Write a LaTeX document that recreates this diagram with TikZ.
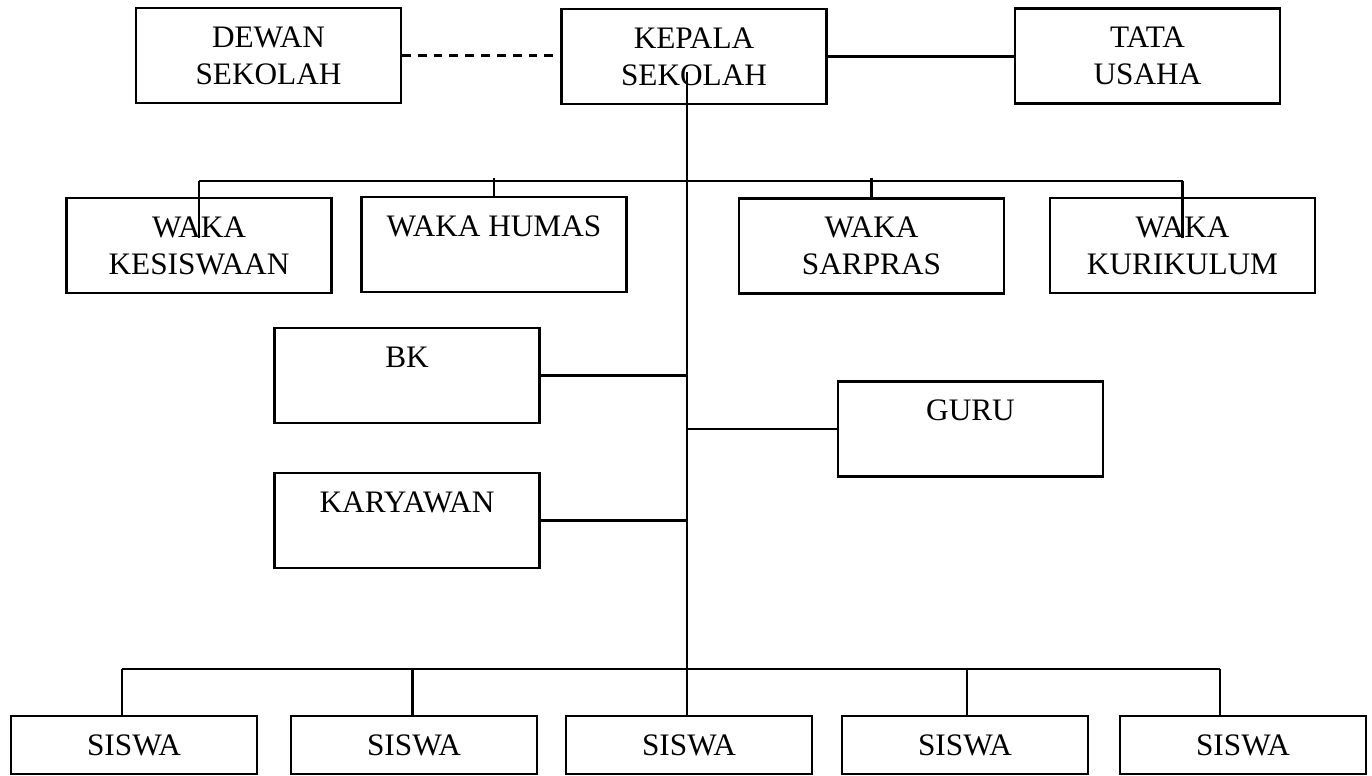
\documentclass[tikz,border=0pt]{standalone}
\usepackage{fontspec}
\setmainfont{Liberation Serif}
\usetikzlibrary{calc}

\tikzset{
	kotak/.style={draw, line width=1.2pt, minimum width=5.3cm, minimum height=1.9cm, inner sep=0pt, align=center, font=\fontsize{17.8}{21}\selectfont},
	kotaksiswa/.style={kotak, minimum width=4.92cm, minimum height=1.16cm},
	garis/.style={line width=1.2pt},
}

\begin{document}
\begin{tikzpicture}[x=0.02cm, y=-0.02cm]
			%%%%% START %%%%%
			\useasboundingbox (0,0) rectangle (1372,775);
			
			\node[kotak] (dewan) at (268.5, 55.5) {DEWAN\\SEKOLAH};
			\node[kotak] (kepala) at (694, 56.5) {KEPALA\\SEKOLAH};
			\node[kotak] (tata) at (1147.5, 56) {TATA\\USAHA};
			
			\node[kotak] (wkes) at (199, 245.5) {WAKA\\KESISWAAN};
			\node[kotak] (whum) at (494, 244.5) {WAKA HUMAS\\\mbox{}};
			\node[kotak] (wsar) at (871.5, 246) {WAKA\\SARPRAS};
			\node[kotak] (wkur) at (1182.5, 245.5) {WAKA\\KURIKULUM};
			
			\node[kotak] (bk) at (407, 375.5) {BK\\\mbox{}};
			\node[kotak] (guru) at (970.5, 429) {GURU\\\mbox{}};
			\node[kotak] (kary) at (407, 520.5) {KARYAWAN\\\mbox{}};
			
			\node[kotaksiswa] (siswa1) at (134, 745) {SISWA};
			\node[kotaksiswa] (siswa2) at (414, 745) {SISWA};
			\node[kotaksiswa] (siswa3) at (689, 745) {SISWA};
			\node[kotaksiswa] (siswa4) at (965, 745) {SISWA};
			\node[kotaksiswa] (siswa5) at (1243, 745) {SISWA};
			
			% garis atas
			\draw[garis, dash pattern=on 5pt off 4pt] (dewan.east) -- (dewan.east -| kepala.west);
			\draw[garis] (kepala.east) -- (kepala.east -| tata.west);
			
			% batang tengah
			\coordinate (atas) at (687, 72);
			\draw[garis] (atas) -- (atas |- siswa3.north);
			
			% cabang waka
			\coordinate (bus) at (687, 181);
			\draw[garis] (wkes.north |- bus) -- (wkur.north |- bus);
			\draw[garis] (wkes.north |- bus) -- ($(wkes.north)+(0,41)$);
			\draw[garis] ($(whum.north |- bus)+(0,-3)$) -- (whum.north);
			\draw[garis] ($(wsar.north |- bus)+(0,-3)$) -- (wsar.north);
			\draw[garis] (wkur.north |- bus) -- ($(wkur.north)+(0,41)$);
			
			% bk, guru, karyawan
			\draw[garis] (bk.east) -- (bk.east -| atas);
			\draw[garis] (guru.west) -- (guru.west -| atas);
			\draw[garis] (kary.east) -- (kary.east -| atas);
			
			% cabang siswa
			\coordinate (s1) at (122, 669);
			\coordinate (s2) at (412.5, 669);
			\coordinate (s4) at (967, 669);
			\coordinate (s5) at (1220, 669);
			\draw[garis] (s1) -- (s5);
			\draw[garis] (s1) -- (s1 |- siswa1.north);
			\draw[garis] (s2) -- (s2 |- siswa2.north);
			\draw[garis] (s4) -- (s4 |- siswa4.north);
			\draw[garis] (s5) -- (s5 |- siswa5.north);
			
			%%%%% END %%%%%
\end{tikzpicture}
\end{document}
